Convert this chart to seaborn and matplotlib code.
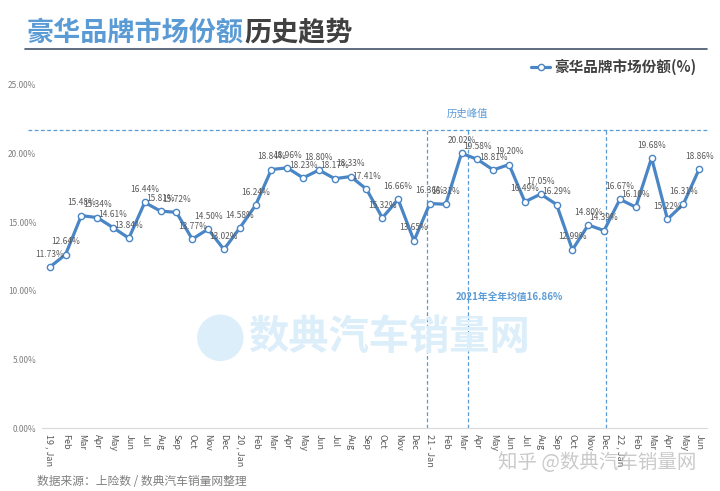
import numpy as np
import pandas as pd
import matplotlib
matplotlib.use('Agg')
import matplotlib.pyplot as plt
from matplotlib.patches import Ellipse
import seaborn as sns

# monthly labels, Jan 2019 .. Jun 2022
months = ['19 , Jan', 'Feb', 'Mar', 'Apr', 'May', 'Jun', 'Jul', 'Aug', 'Sep', 'Oct', 'Nov', 'Dec',
          '20 , Jan', 'Feb', 'Mar', 'Apr', 'May', 'Jun', 'Jul', 'Aug', 'Sep', 'Oct', 'Nov', 'Dec',
          '21 - Jan', 'Feb', 'Mar', 'Apr', 'May', 'Jun', 'Jul', 'Aug', 'Sep', 'Oct', 'Nov', 'Dec',
          '22 , Jan', 'Feb', 'Mar', 'Apr', 'May', 'Jun']

# luxury brand market share (%)
share = [11.73, 12.64, 15.48, 15.34, 14.61, 13.84, 16.44, 15.81, 15.72, 13.77, 14.50, 13.02,
         14.58, 16.24, 18.84, 18.96, 18.23, 18.80, 18.17, 18.33, 17.41, 15.32, 16.66, 13.65,
         16.36, 16.31, 20.02, 19.58, 18.81, 19.20, 16.49, 17.05, 16.29, 12.99, 14.80, 14.39,
         16.67, 16.10, 19.68, 15.22, 16.31, 18.86]

peak_level = 21.7
avg_2021 = 16.86

df = pd.DataFrame({'idx': np.arange(len(share)), 'share': share})

sns.set_theme(style='white')
plt.rcParams['font.family'] = ['Noto Sans CJK SC', 'DejaVu Sans']

blue = '#4a86c5'
light = '#5b9bd5'
grey = '#595959'

fig = plt.figure(figsize=(7.2, 4.91), dpi=100)

# watermark behind the chart
fig.text(0.54, 0.312, '数典汽车销量网', color='#dbeef9', fontsize=29, fontweight='bold',
         ha='center', va='center', zorder=0)
fig.add_artist(Ellipse((0.306, 0.312), 45 / 720, 45 / 491, transform=fig.transFigure,
                       color='#dbeef9', zorder=0))

ax = fig.add_axes([0.058, 0.128, 0.924, 0.699])
ax.patch.set_alpha(0)

sns.lineplot(data=df, x='idx', y='share', ax=ax, color=blue, linewidth=2.3,
             marker='o', markersize=4.5, markerfacecolor='white',
             markeredgecolor=blue, markeredgewidth=1.0, label='豪华品牌市场份额(%)', zorder=3)

for i, v in enumerate(share):
    ax.annotate(f'{v:.2f}%', (i, v), xytext=(0, 6), textcoords='offset points',
                ha='center', va='bottom', fontsize=6, color=grey, zorder=4)

ax.set_xlim(-0.5, len(share) - 0.5)
ax.set_ylim(0, 25)
ax.set_yticks(np.arange(0, 26, 5))
ax.set_yticklabels([f'{t:.2f}%' for t in np.arange(0, 26, 5)], fontsize=6, color='#7f7f7f')
ax.set_xticks(np.arange(len(share)))
ax.set_xticklabels(months, rotation=-90, fontsize=6.5, color=grey, va='top', ha='center')
ax.tick_params(axis='both', length=0, pad=4)
ax.set_xlabel('')
ax.set_ylabel('')
for s in ['top', 'right', 'left']:
    ax.spines[s].set_visible(False)
ax.spines['bottom'].set_color('#d9d9d9')
ax.spines['bottom'].set_linewidth(0.8)

# reference lines
ax.axhline(peak_level, xmin=-0.021, xmax=1.0, color=light, linestyle=(0, (3, 2)),
           linewidth=0.9, clip_on=False, zorder=1)
for xv in [23.8, 26.4, 35.1]:
    ax.plot([xv, xv], [0, peak_level], color=light, linestyle=(0, (3, 2)),
            linewidth=0.9, zorder=1)
ax.text(26.4, 22.5, '历史峰值', color=light, fontsize=7.5, ha='center', va='bottom')
ax.text(29.0, 9.6, '2021年全年均值16.86%', color=light, fontsize=7,
        ha='center', va='center', fontweight='bold')

leg = ax.legend(loc='upper right', bbox_to_anchor=(1.0, 1.105), frameon=False,
                fontsize=10.5, handlelength=1.3, handletextpad=0.3, borderpad=0.2)
for t in leg.get_texts():
    t.set_color('#404040')
    t.set_fontweight('bold')

# title: blue part then grey part right after it
t1 = fig.text(0.0375, 0.933, '豪华品牌市场份额', color=light, fontsize=19.5, fontweight='bold',
              ha='left', va='center')
fig.canvas.draw()
bb = t1.get_window_extent(renderer=fig.canvas.get_renderer())
x2 = bb.x1 / fig.bbox.width
fig.text(x2, 0.933, '历史趋势', color='#404040', fontsize=19.5, fontweight='bold',
         ha='left', va='center')
fig.add_artist(plt.Line2D([0.035, 0.982], [0.9, 0.9], color='#44546a', linewidth=1.2))

fig.text(0.83, 0.058, '知乎 @数典汽车销量网', color='#bdbdbd', fontsize=14,
         ha='center', va='center', alpha=0.8, zorder=10)

fig.text(0.052, 0.006, '数据来源：上险数 / 数典汽车销量网整理', color='#7f7f7f', fontsize=8.5,
         ha='left', va='bottom')

fig.savefig('out.png', dpi=100)
